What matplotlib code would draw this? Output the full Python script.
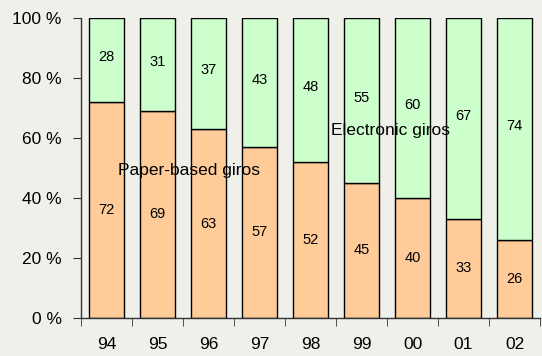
import matplotlib
matplotlib.use("Agg")
import matplotlib.pyplot as plt
import numpy as np

years = ["94", "95", "96", "97", "98", "99", "00", "01", "02"]
paper = [72, 69, 63, 57, 52, 45, 40, 33, 26]
electronic = [28, 31, 37, 43, 48, 55, 60, 67, 74]
y_ticks = [0, 20, 40, 60, 80, 100]

plt.rcParams["font.family"] = ["Liberation Sans", "DejaVu Sans"]

bg = "#f0f0ea"
fig = plt.figure(figsize=(5.42, 3.56), dpi=100, facecolor=bg)
ax = fig.add_axes([81 / 542, 38 / 356, 459 / 542, 300 / 356], facecolor=bg)

x = np.arange(len(years))
w = 0.67
ax.bar(x, paper, width=w, color="#ffcc99", edgecolor="black", linewidth=1.0)
ax.bar(x, electronic, bottom=paper, width=w, color="#ccffcc", edgecolor="black", linewidth=1.0)

for xi, p, e in zip(x, paper, electronic):
    ax.text(xi, p / 2, str(p), ha="center", va="center", fontsize=10.5)
    ax.text(xi, p + e / 2 + 1, str(e), ha="center", va="center", fontsize=10.5)

ax.text(0.22, 49, "Paper-based giros", ha="left", va="center", fontsize=12.5)
ax.text(4.4, 62.5, "Electronic giros", ha="left", va="center", fontsize=12.5)

ax.set_xlim(-0.5, len(years) - 0.5)
ax.set_ylim(0, 100)
ax.set_yticks(y_ticks)
ax.set_yticklabels([f"{t} %" for t in y_ticks], fontsize=12.5)

ax.set_xticks(x)
ax.set_xticklabels(years, fontsize=12.5)
ax.tick_params(axis="x", length=0, pad=14)
ax.set_xticks(np.arange(len(years) + 1) - 0.5, minor=True)
ax.tick_params(axis="x", which="minor", length=6, direction="out", color="#333333")
ax.tick_params(axis="y", length=6, direction="out", color="#333333", pad=8)

for s in ["top", "right"]:
    ax.spines[s].set_visible(False)
for s in ["left", "bottom"]:
    ax.spines[s].set_color("#333333")
    ax.spines[s].set_linewidth(1.0)

fig.savefig("out.png", dpi=100, facecolor=bg)
